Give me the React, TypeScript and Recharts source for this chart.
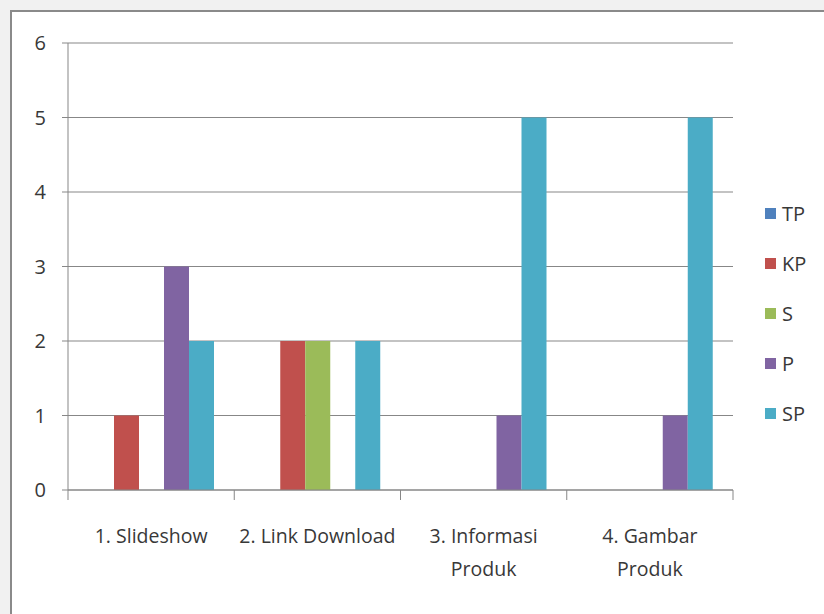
import { Bar, BarChart, CartesianGrid, Legend, XAxis, YAxis } from 'recharts';

const CATEGORIES = ['1. Slideshow', '2. Link Download', '3. Informasi\nProduk', '4. Gambar\nProduk'];
const TP = [0, 0, 0, 0];
const KP = [1, 2, 0, 0];
const S = [0, 2, 0, 0];
const P = [3, 0, 1, 1];
const SP = [2, 2, 5, 5];
const Y_TICKS = [0, 1, 2, 3, 4, 5, 6];

const SERIES = [
  { key: 'TP', values: TP, color: '#4f81bd' },
  { key: 'KP', values: KP, color: '#c0504d' },
  { key: 'S', values: S, color: '#9bbb59' },
  { key: 'P', values: P, color: '#8064a2' },
  { key: 'SP', values: SP, color: '#4bacc6' },
];

const data = CATEGORIES.map((name, i) => {
  const row: Record<string, string | number> = { name };
  SERIES.forEach((s) => (row[s.key] = s.values[i]));
  return row;
});

const W = 824;
const H = 614;
const X_HEIGHT = 60;
const MARGIN = { top: 43, right: 91, left: 0, bottom: 124 - X_HEIGHT };
const Y_WIDTH = 68;
const BAND = (W - MARGIN.left - Y_WIDTH - MARGIN.right) / CATEGORIES.length;
const FONT = '"Open Sans", sans-serif';
const TEXT = '#383838';
const AXIS = '#878787';

function CategoryTick(props: any) {
  const { x, y, payload, index } = props;
  const lines = String(payload.value).split('\n');
  return (
    <g>
      <line x1={x - BAND / 2} x2={x - BAND / 2} y1={y - 8} y2={y + 2} stroke={AXIS} />
      {index === CATEGORIES.length - 1 && (
        <line x1={x + BAND / 2} x2={x + BAND / 2} y1={y - 8} y2={y + 2} stroke={AXIS} />
      )}
      <text x={x} y={y + 45} textAnchor="middle" fill={TEXT} fontSize={19.5} fontFamily={FONT}>
        {lines.map((l, i) => (
          <tspan key={i} x={x} dy={i === 0 ? 0 : 33}>
            {l}
          </tspan>
        ))}
      </text>
    </g>
  );
}

function LegendBox() {
  return (
    <div style={{ fontFamily: FONT, color: TEXT, fontSize: 20 }}>
      {SERIES.map((s) => (
        <div key={s.key} style={{ height: 50, display: 'flex', alignItems: 'center' }}>
          <span style={{ width: 11, height: 11, background: s.color, marginRight: 6 }} />
          {s.key}
        </div>
      ))}
    </div>
  );
}

export default function App() {
  return (
    <div style={{ position: 'absolute', left: 0, top: 0, width: W, height: H, background: '#f1f1f1' }}>
      <div
        style={{
          position: 'absolute',
          left: 10,
          top: 10,
          width: W - 8,
          height: H - 11,
          background: '#fff',
          borderLeft: '2px solid #8a8a8a',
          borderTop: '2px solid #8a8a8a',
          borderBottom: '1px solid #d0d0d0',
        }}
      />
      <div style={{ position: 'absolute', left: 0, top: 0 }}>
        <BarChart width={W} height={H} data={data} margin={MARGIN} barSize={25} barGap={0}>
          <CartesianGrid vertical={false} stroke={AXIS} strokeWidth={1} />
          <XAxis
            dataKey="name"
            interval={0}
            tickLine={false}
            axisLine={{ stroke: AXIS }}
            tick={<CategoryTick />}
            height={X_HEIGHT}
          />
          <YAxis
            width={Y_WIDTH}
            domain={[0, 6]}
            ticks={Y_TICKS}
            interval={0}
            tickSize={6}
            tickMargin={16}
            tickLine={{ stroke: AXIS }}
            axisLine={{ stroke: AXIS }}
            tick={{ fill: TEXT, fontSize: 20, fontFamily: FONT }}
          />
          <Legend
            layout="vertical"
            align="center"
            verticalAlign="middle"
            content={<LegendBox />}
            wrapperStyle={{ left: 765, top: 188, width: 60 }}
          />
          {SERIES.map((s) => (
            <Bar key={s.key} dataKey={s.key} fill={s.color} isAnimationActive={false} />
          ))}
        </BarChart>
      </div>
    </div>
  );
}
